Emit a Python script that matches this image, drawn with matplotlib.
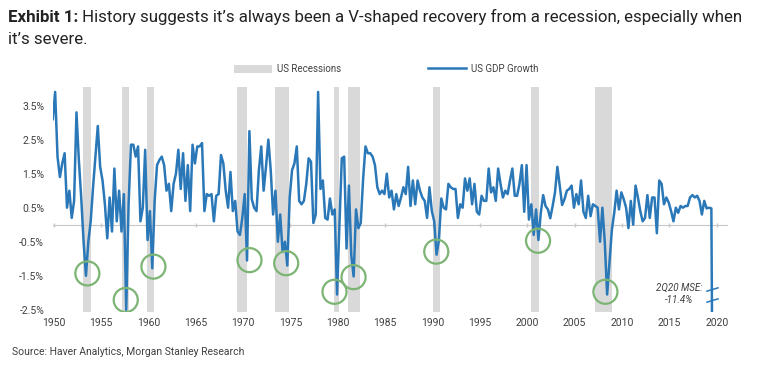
import numpy as np
import matplotlib
matplotlib.use('Agg')
import matplotlib.pyplot as plt
from matplotlib import font_manager
from matplotlib.patches import Patch
from matplotlib.lines import Line2D

# quarterly US GDP growth, q/q %, starting 1950Q2
gdp_1950s = [3.1, 3.9, 2.0,
             1.4, 1.8, 2.1, 0.5,
             1.0, 0.2, 0.7, 3.3,
             1.9, 0.8, -0.5, -1.5,
             -0.5, 0.1, 1.1, 2.0,
             2.9, 1.7, 1.3, 0.6,
             -0.4, 0.8, -0.2, 1.65,
             0.1, 1.0, -0.2, 0.9,
             -2.5, 0.6, 2.35, 2.35,
             2.0, 2.3, 0.1, 0.5]
gdp_1960s = [2.2, -0.45, 0.4, -1.28,
             0.7, 1.75, 1.9, 2.0,
             1.75, 1.0, 1.2, 0.4,
             1.2, 1.5, 2.2, 1.05,
             2.1, 0.7, 1.75, 0.4,
             2.35, 1.8, 2.3, 2.3,
             2.4, 0.4, 0.9, 0.85,
             0.9, 0.1, 0.85, 0.9,
             2.05, 1.8, 1.0, 0.5,
             1.55, 0.4, 0.7, -0.2]
gdp_1970s = [-0.3, 0.2, 0.9, -1.05,
             2.75, 0.75, 0.5, 0.4,
             1.6, 2.3, 1.0, 1.7,
             2.5, 1.6, 0.3, 1.0,
             -0.5, 0.3, -0.8, -0.5,
             -1.2, 0.8, 1.6, 1.8,
             2.3, 0.7, 0.6, 0.7,
             1.2, 1.95, 1.85, 0.05,
             0.3, 3.9, 1.05, 1.3,
             0.2, 0.15, 0.77, 0.3]
gdp_1980s = [0.45, -2.05, 0.0, 1.95,
             2.0, -0.7, 1.15, -0.9,
             -1.52, 0.45, -0.1, 0.05,
             1.35, 2.3, 2.1, 2.1,
             2.0, 1.75, 1.1, 0.9,
             1.0, 0.9, 1.5, 0.8,
             1.0, 0.45, 0.9, 0.55,
             0.8, 1.1, 0.9, 1.7,
             0.55, 1.3, 0.6, 1.3,
             1.0, 0.8, 0.7, 0.2]
gdp_1990s = [1.1, 0.4, 0.1, -0.88,
             -0.45, 0.77, 0.5, 0.45,
             1.2, 1.1, 1.05, 1.05,
             0.2, 0.6, 0.5, 1.36,
             1.0, 1.36, 0.6, 1.2,
             0.38, 0.3, 0.85, 0.7,
             0.7, 1.65, 0.95, 1.1,
             0.7, 1.65, 1.2, 0.8,
             1.0, 0.9, 1.3, 1.65,
             0.85, 0.85, 1.2, 1.75]
gdp_2000s = [0.38, 1.75, 0.15, 0.6,
             -0.3, 0.45, -0.45, 0.35,
             0.87, 0.55, 0.45, 0.19,
             0.55, 0.95, 1.7, 1.15,
             0.58, 0.75, 1.0, 1.05,
             1.15, 0.5, 0.9, 0.6,
             1.3, 0.38, 0.2, 0.85,
             0.25, 0.6, 0.55, 0.5,
             -0.5, 0.5, -0.5, -2.05,
             -1.1, -0.15, 0.35, 1.0]
gdp_2010s = [0.45, 0.95, 0.75, 0.5,
             -0.1, 0.7, 0.0, 1.15,
             0.8, 0.4, 0.1, 0.2,
             0.87, 0.2, 0.8, 0.8,
             -0.25, 1.3, 1.2, 0.6,
             0.8, 0.65, 0.4, 0.1,
             0.5, 0.35, 0.55, 0.5,
             0.55, 0.55, 0.8, 0.87,
             0.8, 0.85, 0.7, 0.3,
             0.7, 0.48, 0.5, 0.48]
gdp_2q20_mse = [-11.4]

recession_start = [1953.15, 1957.2, 1959.9, 1969.35, 1973.32, 1979.55, 1981.07, 1990.04, 2000.42, 2007.18]
recession_end = [1953.93, 1957.97, 1960.64, 1970.4, 1974.9, 1980.15, 1982.37, 1990.81, 2001.27, 2008.94]

circle_year = [1953.57, 1957.62, 1960.54, 1970.68, 1974.55, 1979.65, 1981.66, 1990.39, 2001.13, 2008.24]
circle_val = [-1.43, -2.21, -1.23, -1.04, -1.13, -1.97, -1.54, -0.79, -0.47, -1.97]

tick_years = [1950, 1955, 1960, 1965, 1970, 1975, 1980, 1985, 1990, 1995, 2000, 2005, 2010, 2015, 2020]
ytick_vals = [3.5, 2.5, 1.5, 0.5, -0.5, -1.5, -2.5]
break_vals = [-1.89, -2.22]

try:
    font_manager.findfont('Liberation Sans Narrow', fallback_to_default=False)
    narrow = 'Liberation Sans Narrow'
except ValueError:
    narrow = 'Roboto'
plt.rcParams['font.family'] = [narrow, 'DejaVu Sans']

blue = '#2a78b8'
grey_band = '#d9d9d9'
green = '#7cb474'
txt = '#404040'

gdp = gdp_1950s + gdp_1960s + gdp_1970s + gdp_1980s + gdp_1990s + gdp_2000s + gdp_2010s + gdp_2q20_mse
x = 1949.92 + np.arange(len(gdp)) / 4

fig = plt.figure(figsize=(7.6, 3.7), dpi=100)
ax = fig.add_axes([0.0692, 0.158, 0.889, 0.6073])

for s, e in zip(recession_start, recession_end):
    ax.axvspan(s, e, color=grey_band, lw=0, zorder=0)

ax.axhline(0, color='#c8c8c8', lw=0.8, zorder=1)
ax.plot(tick_years, [0] * len(tick_years), ls='none', marker='|', ms=3, color='#c8c8c8', zorder=1)
ax.plot(x, gdp, color=blue, lw=1.8, zorder=3, solid_joinstyle='round')

ax.scatter(circle_year, circle_val, s=300, facecolors='none', edgecolors=green, linewidths=1.6, zorder=4)

# axis break marks on the final drop
brk = [(-1, -0.3), (1, 0.3)]
ax.plot([x[-2] + 0.05] * len(break_vals), break_vals, ls='none', marker=brk, ms=9,
        mew=1.1, color=blue, zorder=5)
ax.text(2016.0, -2.03, '2Q20 MSE:\n-11.4%', style='italic', fontsize=7, color=txt,
        ha='center', va='center', linespacing=1.3)

ax.set_xlim(1949.9, 2021.2)
ax.set_ylim(-2.55, 4.05)
ax.set_xticks(tick_years)
ax.set_xticklabels([str(t) for t in tick_years])
ax.set_yticks(ytick_vals)
ax.set_yticklabels(['%.1f%%' % v for v in ytick_vals])
ax.tick_params(length=0, labelsize=7.5, labelcolor=txt)
ax.tick_params(axis='x', pad=5)
ax.tick_params(axis='y', pad=6)
for sp in ax.spines.values():
    sp.set_visible(False)

handles = [Patch(facecolor=grey_band, edgecolor='none'), Line2D([], [], color=blue, lw=1.8)]
fig.legend(handles, ['US Recessions', 'US GDP Growth'], loc='center', bbox_to_anchor=(0.508, 0.8135),
           ncol=2, frameon=False, fontsize=7, handlelength=3.9, handleheight=0.9,
           columnspacing=9, handletextpad=0.5, labelcolor=txt)

title_size = 12.2
t1 = fig.text(8 / 760, 1 - 17 / 370, 'Exhibit 1:', fontsize=title_size, fontweight='bold',
              color='#222222', va='center')
ax.annotate(' History suggests it\u2019s always been a V-shaped recovery from a recession, especially when',
            xy=(1, 0.5), xycoords=t1, va='center', fontsize=title_size, color='#222222')
fig.text(8 / 760, 1 - 40 / 370, 'it\u2019s severe.', fontsize=title_size, color='#222222', va='center')

fig.text(12 / 760, 1 - 352 / 370, 'Source: Haver Analytics, Morgan Stanley Research', fontsize=7.5,
         color=txt, va='center')

fig.savefig('out.png', dpi=100)
